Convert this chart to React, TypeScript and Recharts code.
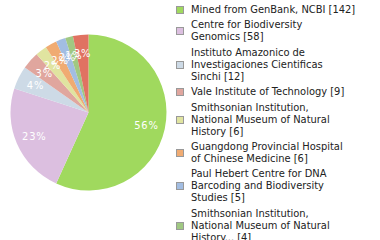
import { PieChart, Pie, Cell, Legend } from 'recharts';

const sources = [
  'Mined from GenBank, NCBI',
  'Centre for Biodiversity Genomics',
  'Instituto Amazonico de Investigaciones Cientificas Sinchi',
  'Vale Institute of Technology',
  'Smithsonian Institution, National Museum of Natural History',
  'Guangdong Provincial Hospital of Chinese Medicine',
  'Paul Hebert Centre for DNA Barcoding and Biodiversity Studies',
  'Smithsonian Institution, National Museum of Natural History...',
  'Other',
];
const counts = [142, 58, 12, 9, 6, 6, 5, 4, 8];
const colors = ['#a0d95e', '#dcbfe0', '#cddae6', '#e0a69e', '#e0e4a0', '#f0ab72', '#a2bde2', '#a0c882', '#e07262'];

const data = sources.map((name, i) => ({ name, value: counts[i] }));

// greedy wrap at 30 chars, count goes on the last line
const wrapLabel = (name: string, count: number) => {
  const lines: string[] = [];
  let cur = '';
  name.split(' ').forEach((w) => {
    if (cur && (cur + ' ' + w).length > 30) {
      lines.push(cur);
      cur = w;
    } else {
      cur = cur ? cur + ' ' + w : w;
    }
  });
  lines.push(cur + ' [' + count + ']');
  return lines;
};

const FONT = '"DejaVu Sans Condensed", "DejaVu Sans", sans-serif';

const renderLabel = ({ cx, cy, midAngle, outerRadius, percent }: any) => {
  const RADIAN = Math.PI / 180;
  const r = outerRadius * 0.76;
  const x = cx + r * Math.cos(-midAngle * RADIAN);
  const y = cy + r * Math.sin(-midAngle * RADIAN);
  return (
    <text
      x={x}
      y={y}
      fill="#fff"
      textAnchor="middle"
      dominantBaseline="central"
      fontSize={11}
      fontFamily={FONT}
      letterSpacing={0.8}
    >
      {Math.floor(percent * 100) + '%'}
    </text>
  );
};

const LegendList = () => (
  <div style={{ fontFamily: FONT, fontSize: 11, lineHeight: '12px', color: '#222' }}>
    {data.map((d, i) => (
      <div key={d.name} style={{ display: 'flex', alignItems: 'center', marginBottom: 3.4 }}>
        <span
          style={{
            width: 6,
            height: 6,
            background: colors[i],
            border: '1px solid #999',
            marginLeft: 4,
            marginRight: 7,
            flexShrink: 0,
          }}
        />
        <div>
          {wrapLabel(d.name, d.value).map((line) => (
            <div key={line} style={{ whiteSpace: 'nowrap' }}>{line}</div>
          ))}
        </div>
      </div>
    ))}
  </div>
);

export default function App() {
  return (
    <div style={{ width: 380, height: 240, overflow: 'hidden', background: '#fff' }}>
      <style>{`body{margin:0}`}</style>
      <PieChart width={380} height={240}>
        <Pie
          data={data}
          dataKey="value"
          cx={83.5}
          cy={107.5}
          outerRadius={78}
          startAngle={90}
          endAngle={-270}
          stroke="none"
          labelLine={false}
          label={renderLabel}
          isAnimationActive={false}
        >
          {data.map((d, i) => (
            <Cell key={d.name} fill={colors[i]} />
          ))}
        </Pie>
        <Legend
          layout="vertical"
          align="right"
          verticalAlign="top"
          content={<LegendList />}
          wrapperStyle={{ left: 172, top: 4, width: 208 }}
        />
      </PieChart>
    </div>
  );
}
